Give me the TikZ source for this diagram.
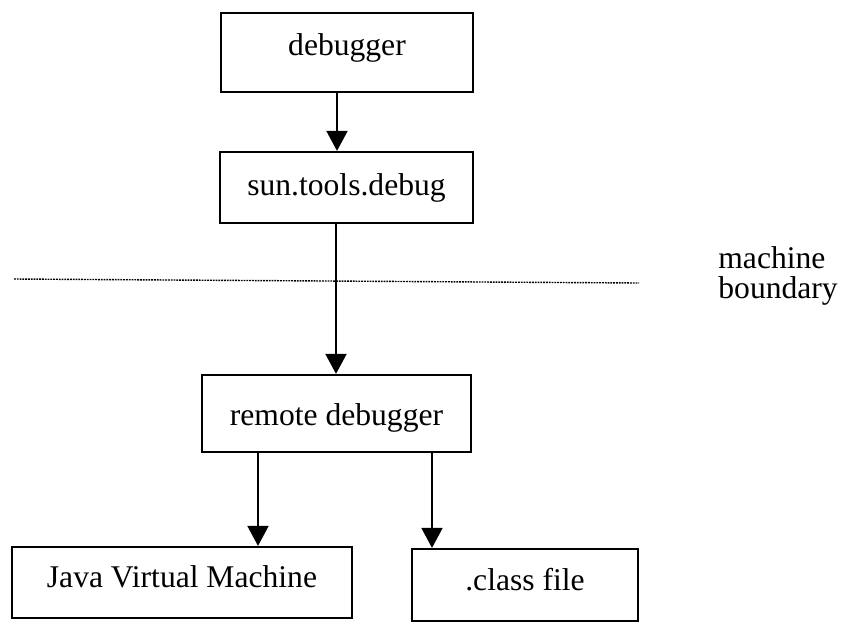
\documentclass[tikz,border=0pt]{standalone}
\usepackage{fontspec}
\setmainfont{Liberation Serif}
\usetikzlibrary{arrows.meta}
\begin{document}
\begin{tikzpicture}[x=0.5pt,y=-0.5pt,
  box/.style={draw=black,line width=1.1pt,rectangle,inner sep=0pt},
  lbl/.style={anchor=base,inner sep=0pt,font=\fontsize{15.8}{19}\selectfont},
  arr/.style={line width=0.9pt,-{Triangle[length=10pt,width=10.5pt]}},
  boundary/.style={line width=0.7pt,dash pattern=on 0.9pt off 0.5pt}]
\useasboundingbox (0,0) rectangle (841,623);
% boxes
\node[box,minimum width=126pt,minimum height=39.5pt] (dbg) at (347,52.5) {};
\node[box,minimum width=126.5pt,minimum height=35.5pt] (sun) at (346.5,187.5) {};
\node[box,minimum width=134.5pt,minimum height=38.5pt] (rem) at (336.5,413.5) {};
\node[box,minimum width=170pt,minimum height=35.5pt] (jvm) at (182,582.5) {};
\node[box,minimum width=113pt,minimum height=36pt] (cls) at (525,585) {};
% labels
\node[lbl] (tdbg) at (347,55) {debugger};
\node[lbl] (tsun) at (346.5,195) {sun.tools.debug};
\node[lbl] (trem) at (336.5,425) {remote debugger};
\node[lbl] (tjvm) at (182,587) {Java Virtual Machine};
\node[lbl] (tcls) at (525,590) {.class file};
% machine boundary
\coordinate (bl) at (14,279);
\coordinate (br) at (639,283);
\draw[boundary] (bl) -- (br);
\node[lbl,anchor=base west] (tm1) at (718,268) {machine};
\node[lbl,anchor=base west] (tm2) at (718,298) {boundary};
% arrow columns
\coordinate (c1) at (337,0);
\coordinate (c2) at (336,0);
\coordinate (c3) at (258,0);
\coordinate (c4) at (432,0);
\draw[arr] (dbg.south -| c1) -- (sun.north -| c1);
\draw[arr] (sun.south -| c2) -- (rem.north -| c2);
\draw[arr] (rem.south -| c3) -- (jvm.north -| c3);
\draw[arr] (rem.south -| c4) -- (cls.north -| c4);
\end{tikzpicture}
\end{document}
